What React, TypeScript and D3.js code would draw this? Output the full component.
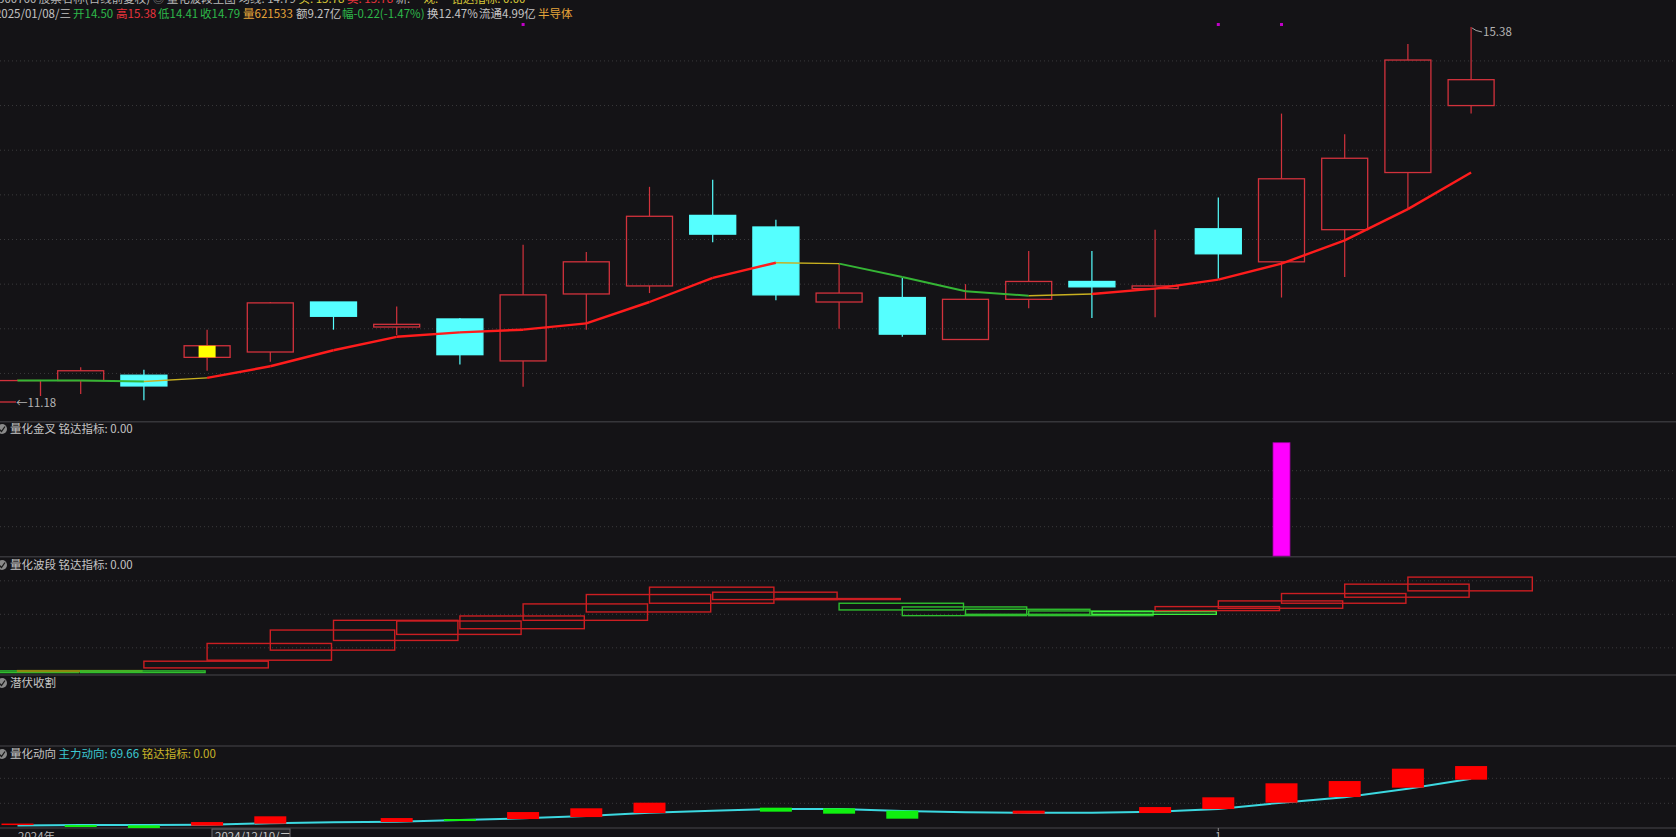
import React from 'react';
import * as d3 from 'd3';

const W = 1676;
const H = 837;
const BG = '#141316';
const FONT = '"Noto Sans CJK SC", "Noto Sans", sans-serif';

// K-line data (one entry per trading day)
const opens = [11.18, 11.42, 11.48, 11.68, 11.74, 12.30, 12.02, 12.11, 11.64, 12.39, 12.48, 13.27, 13.14, 12.30, 12.35, 11.88, 12.33, 12.53, 12.45, 13.12, 12.75, 13.11, 13.75, 14.50];
const closes = [11.42, 11.53, 11.36, 11.81, 12.29, 12.14, 12.05, 11.71, 12.38, 12.75, 13.26, 13.06, 12.38, 12.40, 11.94, 12.33, 12.53, 12.47, 12.48, 12.84, 13.68, 13.91, 15.01, 14.79];
const highs = [11.43, 11.57, 11.54, 11.99, 12.30, 12.30, 12.25, 12.12, 12.94, 12.86, 13.59, 13.67, 13.22, 12.73, 12.57, 12.50, 12.87, 12.87, 13.11, 13.47, 14.41, 14.18, 15.19, 15.38];
const lows = [11.18, 11.27, 11.20, 11.53, 11.63, 11.99, 11.93, 11.60, 11.35, 11.99, 12.40, 12.97, 12.32, 12.00, 11.91, 11.88, 12.23, 12.12, 12.13, 12.56, 12.35, 12.58, 13.34, 14.41];

// moving average + trend of each segment (ending at that day)
const maValues = [11.42, 11.42, 11.41, 11.45, 11.58, 11.76, 11.91, 11.96, 11.99, 12.06, 12.30, 12.57, 12.74, 12.73, 12.58, 12.42, 12.37, 12.39, 12.45, 12.55, 12.73, 12.99, 13.34, 13.75];
const maTrend = ['', 'down', 'down', 'flat', 'up', 'up', 'up', 'up', 'up', 'up', 'up', 'up', 'up', 'flat', 'down', 'down', 'down', 'flat', 'up', 'up', 'up', 'up', 'up', 'up'];

const signalDays = [9, 20, 21];
const markDays = [4];
const priceGrid = [11.5, 12.0, 12.5, 13.0, 13.5, 14.0, 14.5, 15.0];

// 量化金叉
const crossDays = [21];
const crossValues = [1];
const crossGrid = [0.25, 0.5, 0.75];

// 量化波段 boxes (day index, top, bottom, colour kind)
const waveDays = [0, 1, 2, 3, 4, 5, 6, 7, 8, 9, 10, 11, 12, 13, 14, 15, 16, 17, 18, 19, 20, 21, 22, 23];
const waveTop = [0.31, 0.32, 0.31, 0.60, 1.13, 1.53, 1.82, 1.80, 1.95, 2.31, 2.59, 2.81, 2.66, 2.47, 2.33, 2.22, 2.15, 2.10, 2.08, 2.23, 2.40, 2.62, 2.90, 3.11];
const waveBottom = [0.26, 0.29, 0.26, 0.40, 0.63, 0.93, 1.22, 1.40, 1.57, 1.82, 2.07, 2.33, 2.44, 2.44, 2.13, 1.96, 2.00, 1.96, 2.00, 2.11, 2.18, 2.33, 2.51, 2.70];
const waveKind = ['g', 'y', 'g', 'r', 'r', 'r', 'r', 'r', 'r', 'r', 'r', 'r', 'r', 'r', 'g', 'g', 'g', 'g', 'G', 'r', 'r', 'r', 'r', 'r'];
const waveGrid = [1, 2, 3];

// 量化动向
const flowLine = [32.24, 32.64, 32.64, 32.88, 34.0, 34.8, 35.28, 36.64, 38.0, 39.84, 42.48, 44.08, 45.44, 45.44, 43.84, 42.8, 42.48, 42.48, 43.28, 45.44, 50.48, 54.8, 61.68, 69.66];
const flowBarTop = [33.8, 32.6, 32.4, 35.0, 39.6, null, 38.2, 37.4, 43.0, 46.0, 50.5, null, 46.5, 46.0, 44.1, null, 44.1, null, 47.0, 54.8, 66.0, 67.8, 77.7, 79.8];
const flowBarBottom = [32.6, 31.0, 30.2, 32.1, 33.7, null, 35.0, 35.8, 37.4, 39.0, 42.2, null, 43.3, 41.7, 37.7, null, 41.7, null, 42.2, 45.4, 50.5, 55.0, 62.5, 68.9];
const flowBarUp = [true, false, false, true, true, true, true, false, true, true, true, true, false, false, false, true, true, true, true, true, true, true, true, true];
const flowGrid = [50, 70];

const quoteItems = [
  { t: '开14.50', c: '#2eb84a', x: 73 },
  { t: '高15.38', c: '#e8343c', x: 116 },
  { t: '低14.41', c: '#2eb84a', x: 158 },
  { t: '收14.79', c: '#2eb84a', x: 200 },
  { t: '量621533', c: '#e6a43a', x: 243 },
  { t: '额9.27亿', c: '#c4c4c4', x: 296 },
  { t: '幅-0.22(-1.47%)', c: '#2eb84a', x: 342 },
  { t: '换12.47%', c: '#c4c4c4', x: 427 },
  { t: '流通4.99亿', c: '#c4c4c4', x: 479 },
  { t: '半导体', c: '#e6a43a', x: 538 },
];

const titleItems = [
  { t: '300760 股票名称(日线前复权) ', c: '#b8b8b8' },
  { t: '◎ ', c: '#9a9a9a' },
  { t: '量化波段主图 均线: 14.79 ', c: '#b8b8b8' },
  { t: '买: 15.78 ', c: '#d8c838' },
  { t: '卖: 15.78 ', c: '#e8343c' },
  { t: '新: -- ', c: '#b8b8b8' },
  { t: '观: -- ', c: '#d8c838' },
  { t: '铭达指标: 0.00', c: '#d8c838' },
];

const RED = '#d2323c';
const CYAN = '#55ffff';

const Icon: React.FC<{ y: number }> = ({ y }) => (
  <g>
    <circle cx={2} cy={y} r={5} fill="#8a8a8a" />
    <path d={`M-1,${y} L1.5,${y + 2.5} L5,${y - 2.5}`} fill="none" stroke="#1a1a1a" strokeWidth={1.3} />
  </g>
);

export default function App() {
  const n = opens.length;
  const x = d3.scaleLinear().domain([1, 24]).range([17.5, 1471.1]);
  const yMain = d3.scaleLinear().domain([11.18, 15.38]).range([402, 27]);
  const yCross = d3.scaleLinear().domain([0, 1]).range([554.7, 442.7]);
  const yWave = d3.scaleLinear().domain([1, 3]).range([647.8, 580.8]);
  const yFlow = d3.scaleLinear().domain([50, 70]).range([803.3, 778.3]);

  const bodyW = 46;
  const line = d3.line<[number, number]>().x(d => d[0]).y(d => d[1]);

  const maSegs = d3.range(1, n).map(i => ({
    d: line([[x(i), yMain(maValues[i - 1])], [x(i + 1), yMain(maValues[i])]]) as string,
    trend: maTrend[i],
  }));
  const trendColor: Record<string, string> = { up: '#ff1c1c', down: '#35b535', flat: '#c8b020' };
  const trendWidth: Record<string, number> = { up: 2.4, down: 2, flat: 1.4 };

  const flowPath = line(flowLine.map((v, i) => [x(i + 1), yFlow(v)] as [number, number])) as string;

  const waveColor: Record<string, string> = { r: '#cc1e22', g: '#2fbf2f', G: '#3cf03c', y: '#8a8a10' };

  const separators = [421.7, 556.7, 675, 746, 828];

  return (
    <div style={{ position: 'fixed', left: 0, top: 0, width: W, height: H, background: BG, overflow: 'hidden' }}>
      <svg width={W} height={H} style={{ display: 'block' }} fontFamily={FONT}>
        <rect x={0} y={0} width={W} height={H} fill={BG} />

        {/* grid lines */}
        {priceGrid.map(p => (
          <line key={'pg' + p} x1={0} x2={W} y1={yMain(p)} y2={yMain(p)} stroke="#3a3a3c" strokeDasharray="1 3" />
        ))}
        {crossGrid.map(v => (
          <line key={'cg' + v} x1={0} x2={W} y1={yCross(v)} y2={yCross(v)} stroke="#3a3a3c" strokeDasharray="1 3" />
        ))}
        {waveGrid.map(v => (
          <line key={'wg' + v} x1={0} x2={W} y1={yWave(v)} y2={yWave(v)} stroke="#3a3a3c" strokeDasharray="1 3" />
        ))}
        {flowGrid.map(v => (
          <line key={'fg' + v} x1={0} x2={W} y1={yFlow(v)} y2={yFlow(v)} stroke="#3a3a3c" strokeDasharray="1 3" />
        ))}
        {separators.map(s => (
          <line key={'sep' + s} x1={0} x2={W} y1={s} y2={s} stroke="#36363a" strokeWidth={1.6} />
        ))}

        {/* candles */}
        {opens.map((o, i) => {
          const c = closes[i];
          const up = c >= o;
          const cx = x(i + 1);
          const top = yMain(Math.max(o, c));
          const bot = yMain(Math.min(o, c));
          const col = up ? RED : CYAN;
          return (
            <g key={'k' + i}>
              <line x1={cx} x2={cx} y1={yMain(highs[i])} y2={top} stroke={col} strokeWidth={1.2} />
              <line x1={cx} x2={cx} y1={bot} y2={yMain(lows[i])} stroke={col} strokeWidth={1.2} />
              <rect
                x={cx - bodyW / 2}
                y={top}
                width={bodyW}
                height={Math.max(bot - top, 1.5)}
                fill={up ? 'none' : CYAN}
                stroke={col}
                strokeWidth={1.3}
              />
            </g>
          );
        })}
        {markDays.map(d => (
          <rect key={'mk' + d} x={x(d) - 8.5} y={yMain(closes[d - 1])} width={17}
            height={yMain(opens[d - 1]) - yMain(closes[d - 1])} fill="#ffff00" />
        ))}

        {/* moving average */}
        {maSegs.map((s, i) => (
          <path key={'ma' + i} d={s.d} fill="none" stroke={trendColor[s.trend]} strokeWidth={trendWidth[s.trend]} />
        ))}

        {signalDays.map(d => (
          <rect key={'sg' + d} x={x(d) - 1.5} y={23} width={3} height={3} fill="#c000c8" />
        ))}

        {/* extreme labels */}
        <path d={`M${x(24) + 1},${yMain(15.38) + 1} q3,3 10,4`} fill="none" stroke="#a8a8a8" strokeWidth={1} />
        <text x={x(24) + 12} y={yMain(15.38) + 9} fontSize={11.5} fill="#b4b4b4">15.38</text>
        <rect x={16} y={yMain(11.18) - 6} width={44} height={12} fill={BG} />
        <text x={16} y={yMain(11.18) + 4.5} fontSize={11.5} fill="#b4b4b4">←11.18</text>

        {/* header */}
        <text x={-2} y={2.5} fontSize={11.5} xmlSpace="preserve">
          {titleItems.map(t => (
            <tspan key={t.t} fill={t.c}>{t.t}</tspan>
          ))}
        </text>
        <text x={71} y={17.5} fontSize={11.5} fill="#c4c4c4" textAnchor="end">2025/01/08/三</text>
        {quoteItems.map(t => (
          <text key={t.t} x={t.x} y={17.5} fontSize={11.5} fill={t.c}>{t.t}</text>
        ))}

        {/* 量化金叉 */}
        <Icon y={429} />
        <text x={10} y={433} fontSize={11.5} fill="#c4c4c4">量化金叉  铭达指标: 0.00</text>
        {crossDays.map((d, i) => (
          <rect key={'cx' + d} x={x(d) - 8.5} y={yCross(crossValues[i])} width={17}
            height={556 - yCross(crossValues[i])} fill="#ff00ff" stroke="#a000a0" strokeWidth={0.8} />
        ))}

        {/* 量化波段 */}
        <Icon y={565} />
        <text x={10} y={569} fontSize={11.5} fill="#c4c4c4">量化波段  铭达指标: 0.00</text>
        {waveDays.map((d, i) => {
          const x0 = x(d);
          const x1 = x(d + 2) - 2;
          const t = yWave(waveTop[i]);
          const b = yWave(waveBottom[i]);
          return (
            <rect key={'wv' + i} x={x0} y={t} width={x1 - x0} height={Math.max(b - t, 1)}
              fill="none" stroke={waveColor[waveKind[i]]} strokeWidth={1.4} />
          );
        })}

        {/* 潜伏收割 */}
        <Icon y={683} />
        <text x={10} y={687} fontSize={11.5} fill="#c4c4c4">潜伏收割</text>

        {/* 量化动向 */}
        <Icon y={754} />
        <text x={10} y={758} fontSize={11.5}>
          <tspan fill="#c4c4c4">量化动向  </tspan>
          <tspan fill="#3cc8d0">主力动向: 69.66  </tspan>
          <tspan fill="#c8b428">铭达指标: 0.00</tspan>
        </text>
        <path d={flowPath} fill="none" stroke="#3cd8e0" strokeWidth={2} />
        {flowBarTop.map((v, i) => {
          const b = flowBarBottom[i];
          if (v === null || b === null) return null;
          const cx = x(i + 1);
          return (
            <rect key={'fb' + i} x={cx - 16} y={yFlow(v)} width={32} height={yFlow(b) - yFlow(v)}
              fill={flowBarUp[i] ? '#ff0000' : '#10f010'} />
          );
        })}

        {/* date axis */}
        <text x={18} y={841} fontSize={11.5} fill="#b4b4b4">2024年</text>
        <rect x={212} y={829} width={78} height={14} fill="#242428" stroke="#6a6a6e" strokeWidth={1} />
        <text x={215} y={841} fontSize={11.5} fill="#c4c4c4">2024/12/10/二</text>
        <line x1={x(20)} x2={x(20)} y1={828} y2={831} stroke="#8a8a8a" />
        <text x={x(20)} y={841} fontSize={11.5} fill="#b4b4b4" textAnchor="middle">1</text>
      </svg>
    </div>
  );
}
